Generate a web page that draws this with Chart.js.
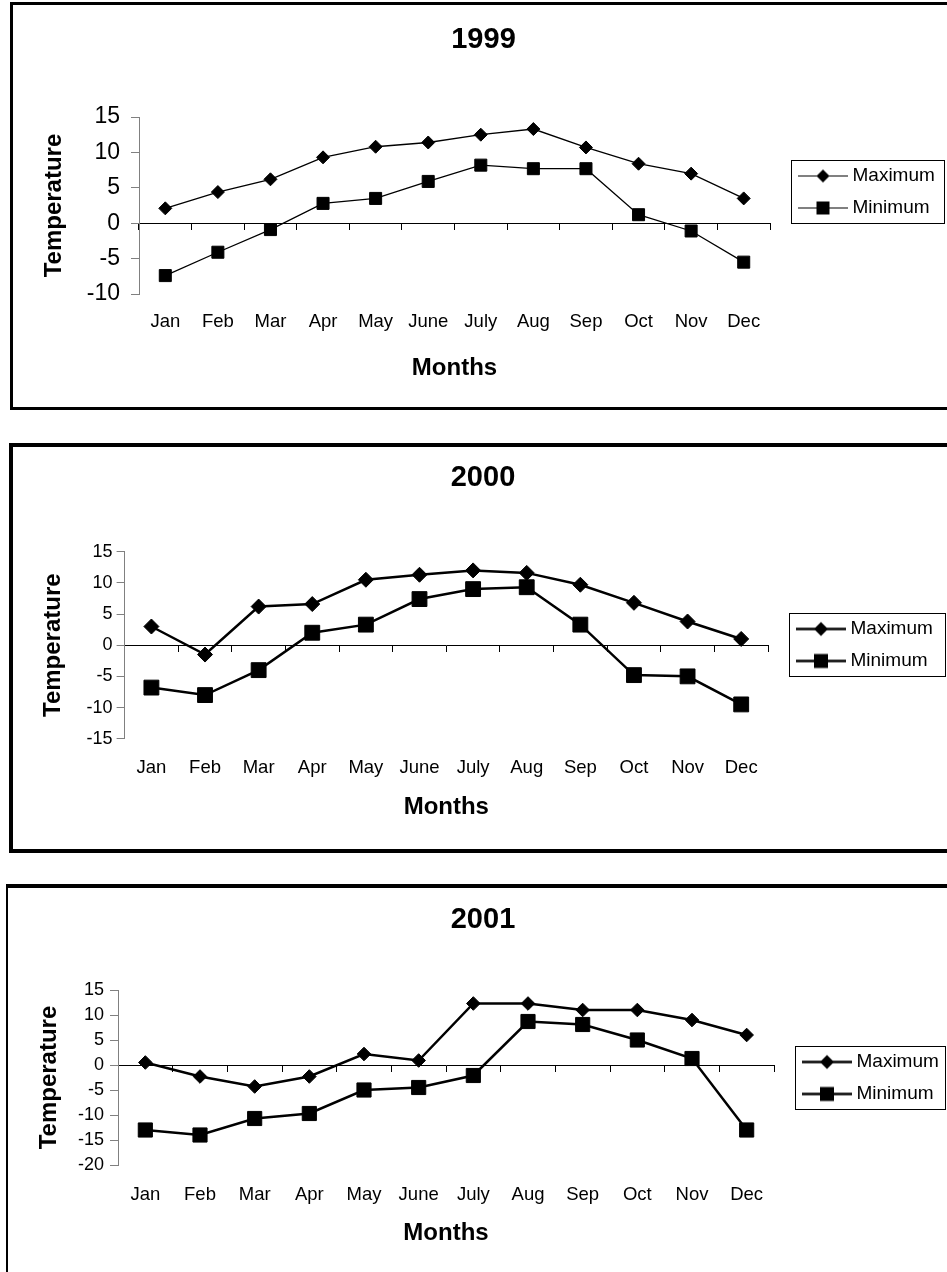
<!DOCTYPE html>
<html>
<head>
<meta charset="utf-8">
<script src="https://cdn.jsdelivr.net/npm/chart.js@4.4.1/dist/chart.umd.min.js"></script>
<style>
html, body { margin: 0; padding: 0; overflow: hidden; background: #fff; width: 947px; height: 1272px; }
.box { position: absolute; border: solid #000; background: #fff; width: 1000px; height: 402px; }
#box1 { left: 10px; top: 2px; border-width: 3px; }
#box2 { left: 9px; top: 443px; border-width: 4px; }
#box3 { left: 6px; top: 884px; border-width: 4px 0 0 2px; }
canvas { position: absolute; left: 0; top: 0; }
</style>
</head>
<body>
<div class="box" id="box1"><canvas id="c1999" width="946" height="402"></canvas></div>
<div class="box" id="box2"><canvas id="c2000" width="946" height="402"></canvas></div>
<div class="box" id="box3"><canvas id="c2001" width="951" height="402"></canvas></div>
<script>
// data
const months = ['Jan', 'Feb', 'Mar', 'Apr', 'May', 'June', 'July', 'Aug', 'Sep', 'Oct', 'Nov', 'Dec'];
const seriesNames = ['Maximum', 'Minimum'];

const max1999 = [2.1, 4.4, 6.2, 9.3, 10.8, 11.4, 12.5, 13.3, 10.7, 8.4, 7.0, 3.5];
const min1999 = [-7.4, -4.1, -0.9, 2.8, 3.5, 5.9, 8.2, 7.7, 7.7, 1.2, -1.1, -5.5];
const range1999 = [-10, 15];

const max2000 = [3.0, -1.5, 6.2, 6.6, 10.5, 11.3, 12.0, 11.6, 9.7, 6.8, 3.8, 1.0];
const min2000 = [-6.8, -8.0, -4.0, 2.0, 3.3, 7.4, 9.0, 9.3, 3.3, -4.8, -5.0, -9.5];
const range2000 = [-15, 15];

const max2001 = [0.5, -2.3, -4.3, -2.3, 2.2, 0.9, 12.3, 12.3, 11.0, 11.0, 9.0, 6.0];
const min2001 = [-13.0, -14.0, -10.7, -9.7, -5.0, -4.5, -2.1, 8.7, 8.1, 5.0, 1.3, -13.0];
const range2001 = [-20, 15];

Chart.defaults.font.family = "'Liberation Sans', Arial, sans-serif";
Chart.defaults.color = '#000';

// legend symbol: a short line with the marker on it
function legendSymbol(kind, size, lineWidth) {
  const c = document.createElement('canvas');
  c.width = 70; c.height = 21;
  const g = c.getContext('2d');
  const cy = 10.5;
  g.strokeStyle = '#000';
  g.lineWidth = lineWidth;
  g.beginPath(); g.moveTo(20, cy); g.lineTo(70, cy); g.stroke();
  g.fillStyle = '#000';
  g.beginPath();
  if (kind === 'diamond') {
    g.moveTo(45, cy - size / 2); g.lineTo(45 + size / 2, cy);
    g.lineTo(45, cy + size / 2); g.lineTo(45 - size / 2, cy);
    g.closePath();
  } else {
    g.rect(45 - size / 2, cy - size / 2, size, size);
  }
  g.fill();
  return c;
}

// box around the legend, like the excel one
const legendFrame = {
  id: 'legendFrame',
  afterDraw(chart, args, opts) {
    const lg = chart.legend;
    const hb = lg && lg.legendHitBoxes;
    if (!hb || hb.length < 2) return;
    const ctx = chart.ctx;
    const top = Math.round(hb[0].top + hb[0].height / 2 - 16);
    const bottom = Math.round(hb[1].top + hb[1].height / 2 + 15);
    const left = Math.round(lg.left + 21);
    ctx.save();
    ctx.strokeStyle = '#000';
    ctx.lineWidth = 1;
    ctx.strokeRect(left + 0.5, top + 0.5, opts.right - left, bottom - top);
    ctx.restore();
  }
};

function makeChart(id, year, maxVals, minVals, range, L) {
  const symbols = [
    legendSymbol('diamond', L.legendMarker, L.legendLine),
    legendSymbol('square', L.legendMarker, L.legendLine)
  ];
  return new Chart(document.getElementById(id), {
    type: 'line',
    data: {
      labels: months,
      datasets: [
        {
          label: seriesNames[0], data: maxVals,
          borderColor: '#000', backgroundColor: '#000', borderWidth: L.lineWidth,
          pointStyle: 'rectRot', pointRadius: L.diamond, pointHoverRadius: L.diamond,
          pointBorderWidth: 1, tension: 0
        },
        {
          label: seriesNames[1], data: minVals,
          borderColor: '#000', backgroundColor: '#000', borderWidth: L.lineWidth,
          pointStyle: 'rect', pointRadius: L.square, pointHoverRadius: L.square,
          pointBorderWidth: 1, tension: 0
        }
      ]
    },
    options: {
      responsive: false,
      animation: false,
      layout: { padding: L.padding },
      plugins: {
        title: {
          display: true, text: year,
          font: { size: 29, weight: 'bold' },
          padding: L.titlePad
        },
        legend: {
          position: 'right',
          align: 'start',
          fullSize: false,
          maxWidth: 170,
          title: { display: true, text: ' ', font: { size: 1, lineHeight: 1 }, padding: { top: L.legendTop - 1, bottom: 0 } },
          labels: {
            usePointStyle: true,
            pointStyleWidth: 60,
            padding: 13,
            font: { size: 19 },
            generateLabels(chart) {
              const items = Chart.defaults.plugins.legend.labels.generateLabels(chart);
              items.forEach((it, i) => { it.pointStyle = symbols[i]; });
              return items;
            }
          }
        },
        tooltip: { enabled: false },
        legendFrame: { right: L.frameRight }
      },
      scales: {
        x: {
          type: 'category',
          position: 'bottom',
          offset: true,
          grid: { display: false, drawTicks: false },
          border: { display: false },
          ticks: { padding: L.xTickPad, font: { size: 18.5 }, maxRotation: 0, autoSkip: false },
          title: { display: true, text: 'Months', font: { size: 24, weight: 'bold' }, padding: 0 },
          afterFit(s) { s.height = L.xHeight; }
        },
        x0: {
          type: 'category',
          axis: 'x',
          position: { y: 0 },
          offset: true,
          grid: { drawOnChartArea: false, drawTicks: true, tickLength: 6, color: '#000', offset: true },
          border: { display: true, color: '#000', width: 1 },
          ticks: { display: false },
          afterFit(s) { s.height = 0; }
        },
        y: {
          min: range[0], max: range[1],
          ticks: { stepSize: 5, padding: L.yTickPad, font: { size: L.yFont } },
          grid: { drawOnChartArea: false, drawTicks: true, tickLength: 8, color: '#808080' },
          border: { display: true, color: '#808080', width: 1 },
          title: { display: true, text: 'Temperature', font: { size: 24, weight: 'bold' }, padding: { top: L.yTitlePad, bottom: 0 } },
          afterFit(s) { s.width = L.yWidth; }
        }
      }
    },
    plugins: [legendFrame]
  });
}

makeChart('c1999', '1999', max1999, min1999, range1999, {
  padding: { left: 14, right: 19, top: 0, bottom: 24.6 },
  titlePad: { top: 18, bottom: 59.2 },
  yWidth: 112, yTitlePad: 12.6, yTickPad: 11, yFont: 23,
  xHeight: 88.4, xTickPad: 17,
  legendTop: 36.5, frameRight: 931,
  lineWidth: 1.3, diamond: 6.5, square: 8.5,
  legendMarker: 13, legendLine: 1
});

makeChart('c2000', '2000', max2000, min2000, range2000, {
  padding: { left: 15, right: 21, top: 0, bottom: 27.6 },
  titlePad: { top: 13.1, bottom: 56.8 },
  yWidth: 96.6, yTitlePad: 10.6, yTickPad: 4, yFont: 18,
  xHeight: 82.7, xTickPad: 18.2,
  legendTop: 54.8, frameRight: 932,
  lineWidth: 2.5, diamond: 7.5, square: 10.5,
  legendMarker: 14, legendLine: 2.5
});

makeChart('c2001', '2001', max2001, min2001, range2001, {
  padding: { left: 14, right: 15, top: 0, bottom: 42.6 },
  titlePad: { top: 14.6, bottom: 52.6 },
  yWidth: 96, yTitlePad: 12.6, yTickPad: 6, yFont: 18,
  xHeight: 82.4, xTickPad: 18.9,
  legendTop: 49.5, frameRight: 937,
  lineWidth: 2.5, diamond: 6.8, square: 10,
  legendMarker: 14, legendLine: 2.5
});
</script>
</body>
</html>
